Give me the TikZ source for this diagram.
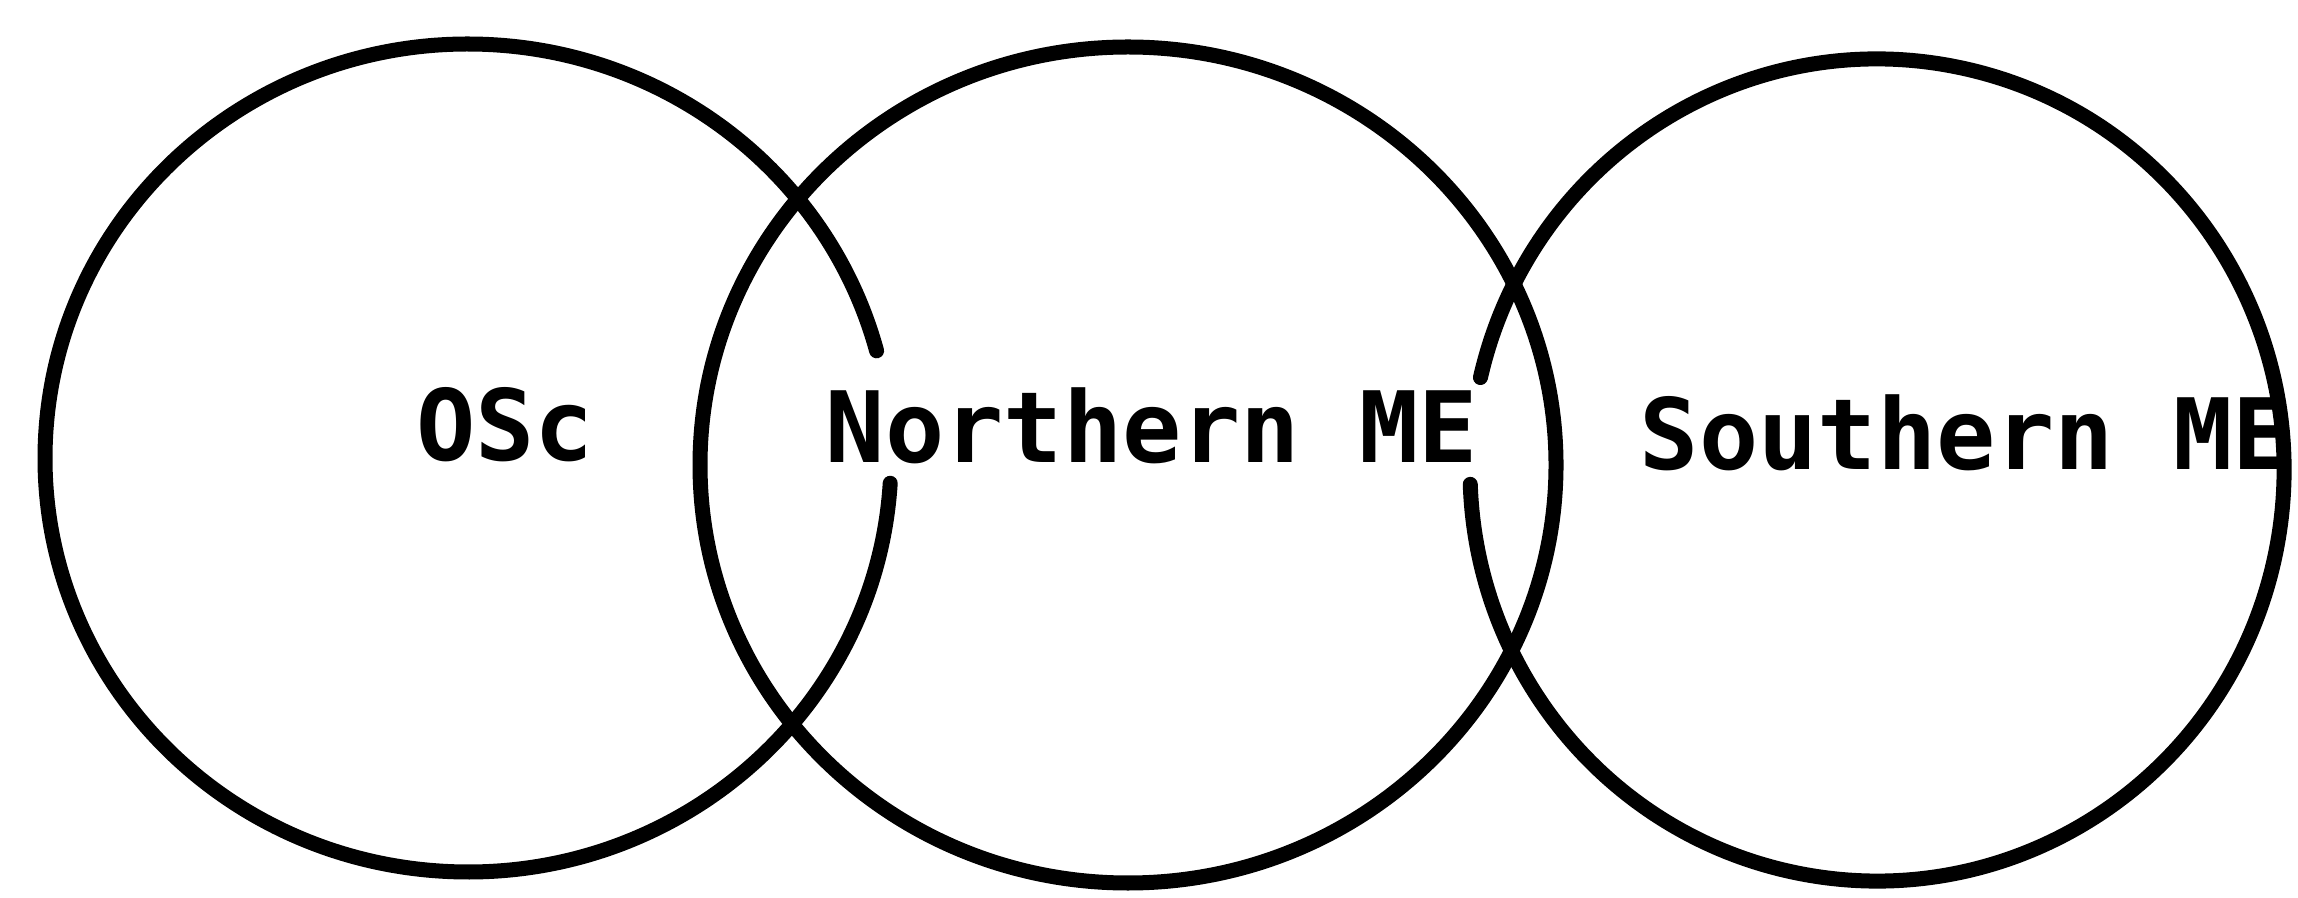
\documentclass[tikz,border=0pt]{standalone}
\usepackage{fontspec}
\setmonofont{DejaVu Sans Mono}
\begin{document}
\begin{tikzpicture}[x=0.01cm,y=-0.01cm,
  ring/.style={draw=black,line width=0.15cm,line cap=round},
  label/.style={inner sep=0pt,anchor=base,font=\fontsize{28pt}{30pt}\selectfont\ttfamily\bfseries}]
\useasboundingbox (0,0) rectangle (2298,898);
% labels
\node[label] (osc) at (505,461) {OSc};
\node[label] (north) at (1152,463) {Northern ME};
\node[label] (south) at (1966,470) {Southern ME};
% circle 1 (OSc), gap on the right where "Northern" begins
\draw[ring] ([shift={(3.5:423 and 414)}]468,458) arc[start angle=3.5,end angle=345,x radius=423,y radius=414];
% circle 2 (Northern ME), complete
\draw[ring] (1128,465) ellipse[x radius=428,y radius=418];
% circle 3 (Southern ME), gap on the left where "ME" ends
\draw[ring] ([shift={(193:407 and 411)}]1877,470) arc[start angle=193,end angle=538,x radius=407,y radius=411];
\end{tikzpicture}
\end{document}
